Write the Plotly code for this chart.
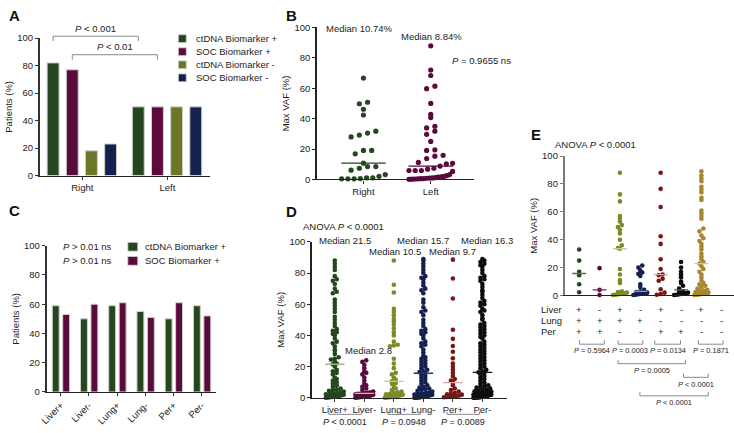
import numpy as np
import plotly.graph_objects as go

# ======================= DATA =======================
# Panel A
a_groups = ["Right", "Left"]
a_series = ["ctDNA Biomarker +", "SOC Biomarker +", "ctDNA Biomarker -", "SOC Biomarker -"]
a_ctdna_pos = [82, 50]
a_soc_pos = [77, 50]
a_ctdna_neg = [18, 50]
a_soc_neg = [23, 50]
a_p_labels = ["<i>P</i> < 0.001", "<i>P</i> < 0.01"]

# Panel B
b_groups = ["Right", "Left"]
b_right = [66.7, 50.8, 49.8, 46.2, 42.4, 31.8, 30.5, 29.2, 28.0, 19.1, 19.1, 16.9, 10.74,
           8.5, 8.5, 7.4, 6.1, 3.2, 2.1, 1.1, 1.1, 0.6, 0.4, 0.4, 0.4]
b_left = [87.9, 72.0, 68.4, 61.4, 59.7, 50.0, 42.8, 40.7, 35.0, 33.9, 31.8, 29.7, 25.0, 19.5,
          19.1, 15.9, 15.3, 13.8, 11.2, 10.6, 10.2, 8.84, 7.4, 6.8, 5.9, 5.9, 5.9, 5.3, 3.2,
          2.5, 2.0, 1.8, 1.5, 1.2, 1.0, 0.9, 0.8, 0.6, 0.5, 0.4, 0.3, 0.2, 0.1]
b_medians = [10.74, 8.84]
b_median_labels = ["Median 10.74%", "Median 8.84%"]
b_p_label = "<i>P</i> = 0.9655 ns"

# Panel C
c_sites = ["Liver+", "Liver-", "Lung+", "Lung-", "Per+", "Per-"]
c_series = ["ctDNA Biomarker +", "SOC Biomarker +"]
c_ctdna_pos = [59, 50, 59, 55, 50, 59]
c_soc_pos = [53, 60, 61, 51, 61, 52]
c_p_labels = ["<i>P</i> > 0.01 ns", "<i>P</i> > 0.01 ns"]

# Panel D
d_sites = ["Liver+", "Liver-", "Lung+", "Lung-", "Per+", "Per-"]
d_liver_pos = [88, 86, 84, 82, 78, 76, 75, 73, 70, 68, 67, 63, 61, 59, 57, 55, 52, 50, 48, 46,
               44, 43, 42, 41, 40, 38, 36, 35, 33, 31, 30, 28, 26, 25, 24.5, 23, 22, 21.5,
               20, 18, 17, 16, 15, 13, 12, 11, 10, 9, 8, 7, 6, 5.5, 5, 4.5, 4, 3.5, 3, 2.8,
               2.5, 2.2, 2, 1.8, 1.6, 1.4, 1.2, 1, 0.9, 0.8, 0.7, 0.6, 0.5, 0.4, 0.3, 0.2, 0.1]
d_liver_neg = [24, 23, 21, 19, 17, 16, 15, 13, 11, 9, 8, 7, 6, 5, 4, 3.5, 3.2, 3, 2.8,
               2.6, 2.5, 2.2, 2, 1.8, 1.5, 1.3, 1.2, 1.1, 1, 0.9, 0.8, 0.6, 0.5, 0.4, 0.3, 0.2, 0.1]
d_lung_pos = [88, 72.5, 67.5, 57, 55, 53, 50.5, 49, 47, 44.5, 42, 40, 36, 34, 33.5, 33, 25, 22,
              19, 16, 15, 13, 11.5, 10.5, 9.5, 9, 7, 6, 5, 4, 3.5, 3, 2.5, 2.2, 2, 1.8, 1.5,
              1.4, 1.2, 1, 0.8, 0.6, 0.5, 0.4, 0.3, 0.2, 0.1]
d_lung_neg = [89, 88, 86, 84, 82, 80, 78, 77, 76, 74, 72, 70, 69, 67, 63, 61, 58, 56, 55, 53,
              50, 48, 46, 44, 43, 42, 41, 40, 38, 36, 35, 34, 33, 31, 29, 27, 26, 25, 24, 23,
              22, 21, 20, 19, 18, 17, 16.5, 15.7, 15, 14, 13, 12, 11, 10, 9, 8, 7, 6.5, 6,
              5.5, 5, 4.5, 4, 3.5, 3, 2.8, 2.6, 2.4, 2.3, 2.2, 2.1, 2, 1.9, 1.8, 1.7, 1.6,
              1.5, 1.4, 1.3, 1.2, 1.1, 1, 0.9, 0.8, 0.7, 0.6, 0.5, 0.4, 0.35, 0.3, 0.25, 0.2,
              0.15, 0.1, 0.05]
d_per_pos = [88.6, 76.5, 63.7, 43.6, 37.8, 33.2, 29.5, 25.3, 22, 20, 18, 16, 14, 12, 11, 9.7,
             8, 6, 5, 4, 3, 2.5, 2.2, 2, 1.5, 1.2, 1, 0.8, 0.6, 0.5, 0.3]
d_per_neg = [89, 88, 87, 86, 85, 84, 82, 80, 78, 77, 76, 75, 73, 71, 69, 68, 66, 64, 62, 61,
             60, 59, 57, 56, 55, 53, 51, 50, 48, 47, 46, 45, 44, 43, 42, 41, 40, 39, 38, 36,
             35, 34, 33, 32, 31, 30, 29, 28, 27, 26, 25, 24, 23, 22, 21, 20, 19, 18, 17, 16.3,
             16, 15, 14, 13, 12, 11, 10, 9, 8, 7.5, 7, 6.5, 6, 5.5, 5, 4.5, 4.2, 4, 3.7, 3.5,
             3.3, 3.2, 3.1, 3, 2.9, 2.8, 2.7, 2.6, 2.5, 2.4, 2.3, 2.2, 2.1, 2, 1.9, 1.8, 1.7,
             1.6, 1.5, 1.4, 1.3, 1.2, 1.1, 1, 0.9, 0.8, 0.7, 0.6, 0.5, 0.45, 0.4, 0.35, 0.3,
             0.25, 0.2, 0.15, 0.1, 0.05, 0.02]
d_medians = [21.5, 2.8, 10.5, 15.7, 9.7, 16.3]
d_median_labels = ["Median 21.5", "Median 2.8", "Median 10.5", "Median 15.7", "Median 9.7", "Median 16.3"]
d_p_labels = ["<i>P</i> < 0.0001", "<i>P</i> = 0.0948", "<i>P</i> = 0.0089"]
d_anova = "ANOVA <i>P</i> < 0.0001"

# Panel E
e_row_names = ["Liver", "Lung", "Per"]
e_liver = ["+", "-", "+", "-", "+", "-", "+", "-"]
e_lung = ["+", "+", "+", "+", "-", "-", "-", "-"]
e_per = ["+", "+", "-", "-", "+", "+", "-", "-"]
e_g1 = [33, 25, 17, 14.5, 8, 2.3]
e_g2 = [19.6, 4, 0.3]
e_g3 = [88, 72.5, 67.5, 57, 55, 53, 50.5, 49, 47, 44.5, 40, 36, 34, 33.5, 19, 15, 11, 9, 3,
        2.5, 2, 1.5, 1.2, 1, 0.8, 0.5, 0.3]
e_g4 = [21.5, 20, 18, 16.5, 15.5, 14, 8, 6, 4, 3, 2.5, 2, 1.8, 1.5, 1.2, 1, 0.8, 0.5, 0.3]
e_g5 = [88, 76.5, 63.5, 42.5, 37, 26, 19, 15, 14.5, 12, 10.5, 4.5, 2, 1, 0.5]
e_g6 = [24, 20, 17, 15, 13, 10, 9, 7, 5, 3, 2.5, 2, 1.5, 1.2, 1, 0.8, 0.5, 0.3]
e_g7 = [89, 86, 84, 82, 78, 76, 74, 70, 68.5, 61, 59, 57, 55, 48, 46, 43, 41, 39, 37, 35, 33,
        30, 28, 26, 24, 22.9, 21, 19, 17, 15, 13, 11, 9, 8, 7, 6, 5, 4, 3.5, 3, 2.5, 2, 1.8,
        1.5, 1.4, 1.2, 1, 0.8, 0.6, 0.5, 0.3]
e_g8 = []
e_anova = "ANOVA <i>P</i> < 0.0001"
e_p_labels = ["<i>P</i> = 0.5964", "<i>P</i> = 0.0003", "<i>P</i> = 0.0134", "<i>P</i> = 0.1871",
              "<i>P</i> = 0.0005", "<i>P</i> < 0.0001", "<i>P</i> < 0.0001"]

# ======================= STYLE / LAYOUT =======================
W, H = 734, 433
FONT = "Liberation Sans, Arial, sans-serif"
FS = 9.5
TXT = "#1c1c1c"
GREEN = "#25471f"
MAROON = "#5a0b3b"
OLIVE_A = "#6b7726"
OLIVE = "#7b8b27"
NAVY = "#14214f"
RED = "#7a1616"
BLACK = "#0d0d0d"
GOLD = "#a7862f"
EDGE = "#cfd3cb"
BRK = "#8a8a8a"

# panel pixel boxes (x0,x1 = axis left/right, yt = y of 100, yb = y of 0)
PANELS = {
    "A": dict(x0=33, x1=205, yt=33, yb=174, xr=(-0.5, 1.5), ax="x", ay="y"),
    "B": dict(x0=313, x1=472, yt=22, yb=178, xr=(-0.69, 1.65), ax="x2", ay="y2"),
    "C": dict(x0=40, x1=211, yt=246, yb=396, xr=(-0.5, 5.5), ax="x3", ay="y3"),
    "D": dict(x0=308, x1=505, yt=242, yb=402, xr=(-0.77, 5.84), ax="x4", ay="y4"),
    "E": dict(x0=563, x1=734, yt=154, yb=297, xr=(-0.715, 7.6), ax="x5", ay="y5"),
}


def PX(p, v):
    g = PANELS[p]
    r0, r1 = g["xr"]
    return g["x0"] + (v - r0) / (r1 - r0) * (g["x1"] - g["x0"])


def fx(px):
    return px / W


def fy(py):
    return 1 - py / H


def swarm(vals, panel, d, maxhalf_px, rowf=0.75, colf=0.9):
    g = PANELS[panel]
    r0, r1 = g["xr"]
    xs = (g["x1"] - g["x0"]) / (r1 - r0)
    ys = (g["yb"] - g["yt"]) / 100.0
    v = np.asarray(vals, float)
    off = np.zeros(len(v))
    if len(v) == 0:
        return off
    rows = np.floor(v * ys / (rowf * d)).astype(int)
    for r in np.unique(rows):
        idx = np.where(rows == r)[0]
        idx = idx[np.argsort(v[idx])]
        n = len(idx)
        step = colf * d
        if n > 1 and (n - 1) * step / 2 > maxhalf_px:
            step = 2 * maxhalf_px / (n - 1)
        for k, i in enumerate(idx):
            off[i] = (k - (n - 1) / 2) * step
    return off / xs


fig = go.Figure()
annotations = []
shapes = []


def ann(text, x, y, size=FS, xa="center", ya="middle", color=TXT, bold=False, angle=0):
    if bold:
        text = "<b>" + text + "</b>"
    annotations.append(dict(text=text, x=fx(x), y=fy(y), xref="paper", yref="paper",
                            xanchor=xa, yanchor=ya, showarrow=False, textangle=angle,
                            font=dict(family=FONT, size=size, color=color)))


def bracket(x0, x1, y, h, down=True):
    ye = y + h if down else y - h
    path = "M {a},{b} L {a},{c} L {d},{c} L {d},{b}".format(
        a=fx(x0), b=fy(ye), c=fy(y), d=fx(x1))
    shapes.append(dict(type="path", path=path, xref="paper", yref="paper",
                       line=dict(color=BRK, width=1)))


# ---------- Panel A bars ----------
A_W = 0.14
a_offsets = [-0.4125, -0.1875, 0.0375, 0.2625]
a_vals = [a_ctdna_pos, a_soc_pos, a_ctdna_neg, a_soc_neg]
a_cols = [GREEN, MAROON, OLIVE_A, NAVY]
for s, vals, col, off in zip(a_series, a_vals, a_cols, a_offsets):
    fig.add_trace(go.Bar(x=list(range(len(a_groups))), y=vals, width=A_W, offset=off, name=s,
                         marker=dict(color=col, line=dict(color=EDGE, width=1)),
                         showlegend=False, xaxis="x", yaxis="y"))
for k, (si, ytop) in enumerate([(0, 31), (1, 50)]):
    xa = PX("A", 0 + a_offsets[si] + A_W / 2)
    xb = PX("A", 1 + a_offsets[si] + A_W / 2)
    bracket(xa, xb, ytop, 5, down=True)
    ann(a_p_labels[k], (xa + xb) / 2, ytop - 8)
for i, (s, col) in enumerate(zip(a_series, a_cols)):
    yc = 33.5 + i * 13.4
    shapes.append(dict(type="rect", xref="paper", yref="paper", x0=fx(173), x1=fx(181),
                       y0=fy(yc + 4), y1=fy(yc - 4), fillcolor=col, line=dict(color=EDGE, width=0.8)))
    ann(s, 189, yc, xa="left")

# ---------- Panel B scatter ----------
for i, (vals, col) in enumerate([(b_right, GREEN), (b_left, MAROON)]):
    off = swarm(vals, "B", 5.2, 22, rowf=1.6, colf=1.6)
    fig.add_trace(go.Scatter(x=i + off, y=vals, mode="markers", cliponaxis=False,
                             marker=dict(size=5.2, color=col), showlegend=False,
                             xaxis="x2", yaxis="y2"))
    fig.add_trace(go.Scatter(x=[i - 0.33, i + 0.33], y=[b_medians[i]] * 2, mode="lines",
                             line=dict(color=col, width=1.3), showlegend=False,
                             xaxis="x2", yaxis="y2"))
ann(b_median_labels[0], 355.5, 23)
ann(b_median_labels[1], 429, 31)
ann(b_p_label, 447, 56, xa="left")

# ---------- Panel C bars ----------
C_W = 0.245
c_offsets = [-0.3, 0.07]
c_cols = [GREEN, MAROON]
for s, vals, col, off in zip(c_series, [c_ctdna_pos, c_soc_pos], c_cols, c_offsets):
    fig.add_trace(go.Bar(x=list(range(len(c_sites))), y=vals, width=C_W, offset=off, name=s,
                         marker=dict(color=col, line=dict(color=EDGE, width=1)),
                         showlegend=False, xaxis="x3", yaxis="y3"))
for i, (s, col) in enumerate(zip(c_series, c_cols)):
    yc = 247 + i * 14.5
    shapes.append(dict(type="rect", xref="paper", yref="paper", x0=fx(122), x1=fx(132),
                       y0=fy(yc + 4.5), y1=fy(yc - 4.5), fillcolor=col, line=dict(color=EDGE, width=0.8)))
    ann(s, 137, yc, xa="left")
    ann(c_p_labels[i], 108, yc, xa="right")

# ---------- Panel D scatter ----------
d_vals = [d_liver_pos, d_liver_neg, d_lung_pos, d_lung_neg, d_per_pos, d_per_neg]
d_cols = [GREEN, MAROON, OLIVE, NAVY, RED, BLACK]
d_mcols = ["#9fb996", "#d2b0c2", "#c4cc86", "#233369", "#dba3a3", "#151515"]
for i, (vals, col) in enumerate(zip(d_vals, d_cols)):
    off = swarm(vals, "D", 4.6, 9, rowf=0.7, colf=0.85)
    fig.add_trace(go.Scatter(x=i + off, y=vals, mode="markers", cliponaxis=False,
                             marker=dict(size=4.6, color=col), showlegend=False,
                             xaxis="x4", yaxis="y4"))
for i, m in enumerate(d_medians):
    fig.add_trace(go.Scatter(x=[i - 0.33, i + 0.33], y=[m, m], mode="lines",
                             line=dict(color=d_mcols[i], width=1.4), showlegend=False,
                             xaxis="x4", yaxis="y4"))
d_lab_y = [241, 353, 252, 241, 252, 241]
d_lab_dx = [10, 4.5, 1.5, 0, 0, 5]
for i, lab in enumerate(d_median_labels):
    ann(lab, PX("D", i) + d_lab_dx[i], d_lab_y[i])
ann(d_anova, 297, 226, xa="left")
for k in range(3):
    xa = PX("D", 2 * k - 0.2)
    xb = PX("D", 2 * k + 0.9)
    bracket(xa, xb, 419, 3, down=False)
    ann(d_p_labels[k], (xa + xb) / 2, 426.5, size=9)

# ---------- Panel E scatter ----------
e_vals = [e_g1, e_g2, e_g3, e_g4, e_g5, e_g6, e_g7, e_g8]
e_cols = [GREEN, MAROON, OLIVE, NAVY, RED, BLACK, GOLD, GOLD]
e_mcols = ["#4d7a40", "#7a2457", "#c9cd8f", "#8f9cc4", "#d99f9f", "#555555", "#dcc18f", "#dcc18f"]
for i, (vals, col) in enumerate(zip(e_vals, e_cols)):
    if len(vals) == 0:
        continue
    off = swarm(vals, "E", 4.6, 7, rowf=0.75, colf=0.85)
    fig.add_trace(go.Scatter(x=i + off, y=vals, mode="markers", cliponaxis=False,
                             marker=dict(size=4.6, color=col), showlegend=False,
                             xaxis="x5", yaxis="y5"))
    m = float(np.median(vals))
    fig.add_trace(go.Scatter(x=[i - 0.34, i + 0.34], y=[m, m], mode="lines",
                             line=dict(color=e_mcols[i], width=1.3), showlegend=False,
                             xaxis="x5", yaxis="y5"))
ann(e_anova, 551, 142, xa="left")
for r, (name, signs) in enumerate(zip(e_row_names, [e_liver, e_lung, e_per])):
    yr = 311 + r * 11.5
    ann(name, 537, yr, xa="left")
    for i, s in enumerate(signs):
        ann(s, PX("E", i), yr)
e_brk = [(578, 603, 347), (617, 642, 347), (654, 680, 347), (698, 723, 347),
         (617, 685, 367), (683, 708, 381), (639, 708, 400)]
e_txt_y = [353.5, 353.5, 353.5, 353.5, 374, 388, 407]
for k, (xa, xb, yb) in enumerate(e_brk):
    bracket(xa, xb, yb, 4, down=False)
    ann(e_p_labels[k], (xa + xb) / 2, e_txt_y[k], size=7.4)

# ---------- panel letters ----------
for L, x, y in [("A", 0, 10), ("B", 280, 10), ("C", 0, 210), ("D", 280, 211), ("E", 527, 132)]:
    ann(L, x, y, size=15, xa="left", bold=True, color="#111")


# ---------- axes ----------
def axis_pair(p, ticktext, title, xticks=True, yline="#333", tickangle=0):
    g = PANELS[p]
    n = len(ticktext)
    xa = dict(domain=[fx(g["x0"]), fx(g["x1"])], range=list(g["xr"]), anchor=g["ay"],
              showgrid=False, zeroline=False, showline=True, linecolor="#222", linewidth=1.4,
              tickmode="array", tickvals=list(range(n)), ticktext=ticktext,
              ticks="outside" if xticks else "", ticklen=3, tickcolor="#333",
              showticklabels=xticks, tickangle=tickangle,
              tickfont=dict(family=FONT, size=FS, color=TXT), fixedrange=True)
    ya = dict(domain=[fy(g["yb"]), fy(g["yt"])], range=[0, 100], anchor=g["ax"],
              showgrid=False, zeroline=False, showline=True, linecolor=yline, linewidth=1.6,
              tickmode="array", tickvals=[0, 20, 40, 60, 80, 100], ticks="outside", ticklen=3,
              tickcolor=yline, tickfont=dict(family=FONT, size=FS, color=TXT),
              title=dict(text=title, font=dict(family=FONT, size=FS, color=TXT), standoff=3),
              fixedrange=True)
    return xa, ya


layout_axes = {}
for p, tt, title, xt, yl, ang in [
    ("A", a_groups, "Patients (%)", True, "#333", 0),
    ("B", b_groups, "Max VAF (%)", True, "#222", 0),
    ("C", c_sites, "Patients (%)", True, "#333", -45),
    ("D", d_sites, "Max VAF (%)", True, "#222", 0),
    ("E", [""] * 8, "Max VAF (%)", False, "#7a7a7a", 0),
]:
    xa, ya = axis_pair(p, tt, title, xt, yl, ang)
    g = PANELS[p]
    layout_axes["xaxis" + g["ax"][1:]] = xa
    layout_axes["yaxis" + g["ay"][1:]] = ya

fig.update_layout(
    width=W, height=H, autosize=False,
    margin=dict(l=0, r=0, t=0, b=0),
    paper_bgcolor="white", plot_bgcolor="white",
    barmode="overlay", showlegend=False,
    font=dict(family=FONT, size=FS, color=TXT),
    annotations=annotations, shapes=shapes,
    **layout_axes,
)
fig.write_html(
    "out.html",
    config={"displayModeBar": False},
    post_script="document.body.style.margin='0px';document.body.style.padding='0px';"
                "document.body.style.overflow='hidden';",
)
